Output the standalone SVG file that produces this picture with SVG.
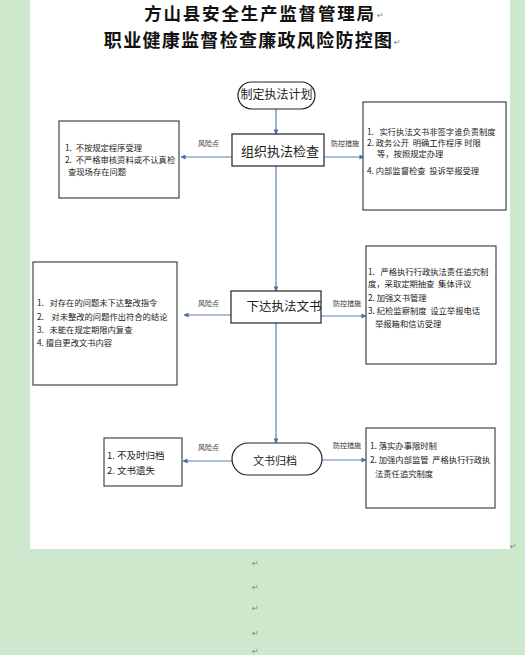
<svg xmlns="http://www.w3.org/2000/svg" width="525" height="655" viewBox="0 0 525 655">
<style>
.t{font-family:"Noto Sans CJK SC","Noto Sans",sans-serif;fill:#222;white-space:pre}
.title{font-weight:700;text-anchor:middle;fill:#111}
.box{fill:#fff;stroke:#444;stroke-width:1.2}
.node{fill:#fff;stroke:#222;stroke-width:1.2}
.s{font-size:8.3px}
.lbl{font-size:7px;fill:#333}
.big{font-size:13px;text-anchor:middle}
.mark{font-family:"DejaVu Sans",sans-serif;font-size:8px;fill:#6f8a6f}
.con{stroke:#5b7fb5;stroke-width:1.2;fill:none}
</style>
<defs>
<marker id="ah" viewBox="0 0 6 6" refX="5.5" refY="3" markerWidth="5" markerHeight="5" orient="auto" markerUnits="userSpaceOnUse">
<path d="M0,0 L6,3 L0,6 Z" fill="#4a6fa8"/>
</marker>
</defs>
<rect x="0" y="0" width="525" height="655" fill="#cde8cd"/>
<rect x="30" y="0" width="480" height="549" fill="#fff"/>
<g id="titles">
<text class="t title" x="260" y="20.3" style="font-size:17.5px;letter-spacing:1.8px">方山县安全生产监督管理局</text>
<text class="t title" x="248.6" y="46.5" style="font-size:18px;letter-spacing:1.3px">职业健康监督检查廉政风险防控图</text>
<text class="mark" x="377" y="18">↵</text>
<text class="mark" x="394" y="45">↵</text>
</g>
<g id="connectors">
<line class="con" x1="276" y1="109" x2="276" y2="134" marker-end="url(#ah)"/>
<line class="con" x1="276" y1="166" x2="276" y2="291" marker-end="url(#ah)"/>
<line class="con" x1="276" y1="323" x2="276" y2="443" marker-end="url(#ah)"/>
<line class="con" x1="232" y1="157" x2="181" y2="157" marker-end="url(#ah)"/>
<line class="con" x1="324" y1="157" x2="364" y2="157" marker-end="url(#ah)"/>
<line class="con" x1="231" y1="315" x2="184" y2="315" marker-end="url(#ah)"/>
<line class="con" x1="321" y1="316" x2="366" y2="316" marker-end="url(#ah)"/>
<line class="con" x1="232" y1="461" x2="183" y2="461" marker-end="url(#ah)"/>
<line class="con" x1="322" y1="460" x2="366" y2="460" marker-end="url(#ah)"/>
<text class="t lbl" x="198" y="146">风险点</text>
<text class="t lbl" x="331" y="146">防控措施</text>
<text class="t lbl" x="198" y="306">风险点</text>
<text class="t lbl" x="333" y="306">防控措施</text>
<text class="t lbl" x="198" y="450">风险点</text>
<text class="t lbl" x="333" y="448">防控措施</text>
</g>
<g id="n-plan">
<rect class="node" x="238" y="82" width="77" height="27" rx="13.5"/>
<text class="t" x="276.5" y="98.5" font-size="12" text-anchor="middle">制定执法计划</text>
</g>
<g id="n-inspect">
<rect class="node" x="232" y="134" width="92" height="32"/>
<text class="t big" x="280" y="155.5">组织执法检查</text>
</g>
<g id="n-issue">
<rect class="node" x="231" y="291" width="90" height="32"/>
<text class="t" x="284" y="311" font-size="12.5" text-anchor="middle">下达执法文书</text>
</g>
<g id="n-archive">
<rect class="node" x="232" y="443" width="90" height="32" rx="16"/>
<text class="t" x="275" y="465" font-size="11" text-anchor="middle">文书归档</text>
</g>
<g id="risk1">
<rect class="box" x="59" y="121" width="120" height="77"/>
<text class="t s" x="65" y="151" xml:space="preserve">1.  不按规定程序受理</text>
<text class="t s" x="65" y="163" xml:space="preserve">2.  不严格审核资料或不认真检</text>
<text class="t s" x="68" y="175">查现场存在问题</text>
</g>
<g id="ctrl1">
<rect class="box" x="363" y="102" width="143" height="108"/>
<text class="t s" x="367" y="134.5" xml:space="preserve">1.   实行执法文书非签字谁负责制度</text>
<text class="t s" x="367" y="146" xml:space="preserve">2. 政务公开  明确工作程序 时限</text>
<text class="t s" x="377" y="157">等，按照规定办理</text>
<text class="t s" x="367" y="173.5" xml:space="preserve">4. 内部监督检查  投诉举报受理</text>
</g>
<g id="risk2">
<rect class="box" x="33" y="262" width="144" height="123"/>
<text class="t s" x="37" y="306" xml:space="preserve">1.   对存在的问题未下达整改指令</text>
<text class="t s" x="37" y="320" xml:space="preserve">2.    对未整改的问题作出符合的结论</text>
<text class="t s" x="37" y="333" xml:space="preserve">3.   未能在规定期限内复查</text>
<text class="t s" x="37" y="346">4. 擅自更改文书内容</text>
</g>
<g id="ctrl2">
<rect class="box" x="366" y="246" width="130" height="118"/>
<text class="t s" x="368" y="275" xml:space="preserve">1.   严格执行行政执法责任追究制</text>
<text class="t s" x="368" y="287" xml:space="preserve">度，采取定期抽查  集体评议</text>
<text class="t s" x="368" y="301">2. 加强文书管理</text>
<text class="t s" x="368" y="314" xml:space="preserve">3. 纪检监察制度  设立举报电话</text>
<text class="t s" x="375" y="327">举报箱和信访受理</text>
</g>
<g id="risk3">
<rect class="box" x="104" y="438" width="78" height="48"/>
<text class="t" x="107" y="459" font-size="9.5">1. 不及时归档</text>
<text class="t" x="107" y="473.5" font-size="9.5">2. 文书遗失</text>
</g>
<g id="ctrl3">
<rect class="box" x="366" y="428" width="129" height="80"/>
<text class="t s" x="370" y="449">1. 落实办事限时制</text>
<text class="t s" x="370" y="463" xml:space="preserve">2. 加强内部监管  严格执行行政执</text>
<text class="t s" x="375" y="477">法责任追究制度</text>
</g>
<g id="marks">
<text class="mark" x="510" y="549">↵</text>
<text class="mark" x="252" y="566">↵</text>
<text class="mark" x="252" y="590">↵</text>
<text class="mark" x="252" y="611">↵</text>
<text class="mark" x="252" y="636">↵</text>
<text class="mark" x="252" y="654">↵</text>
</g>
</svg>
